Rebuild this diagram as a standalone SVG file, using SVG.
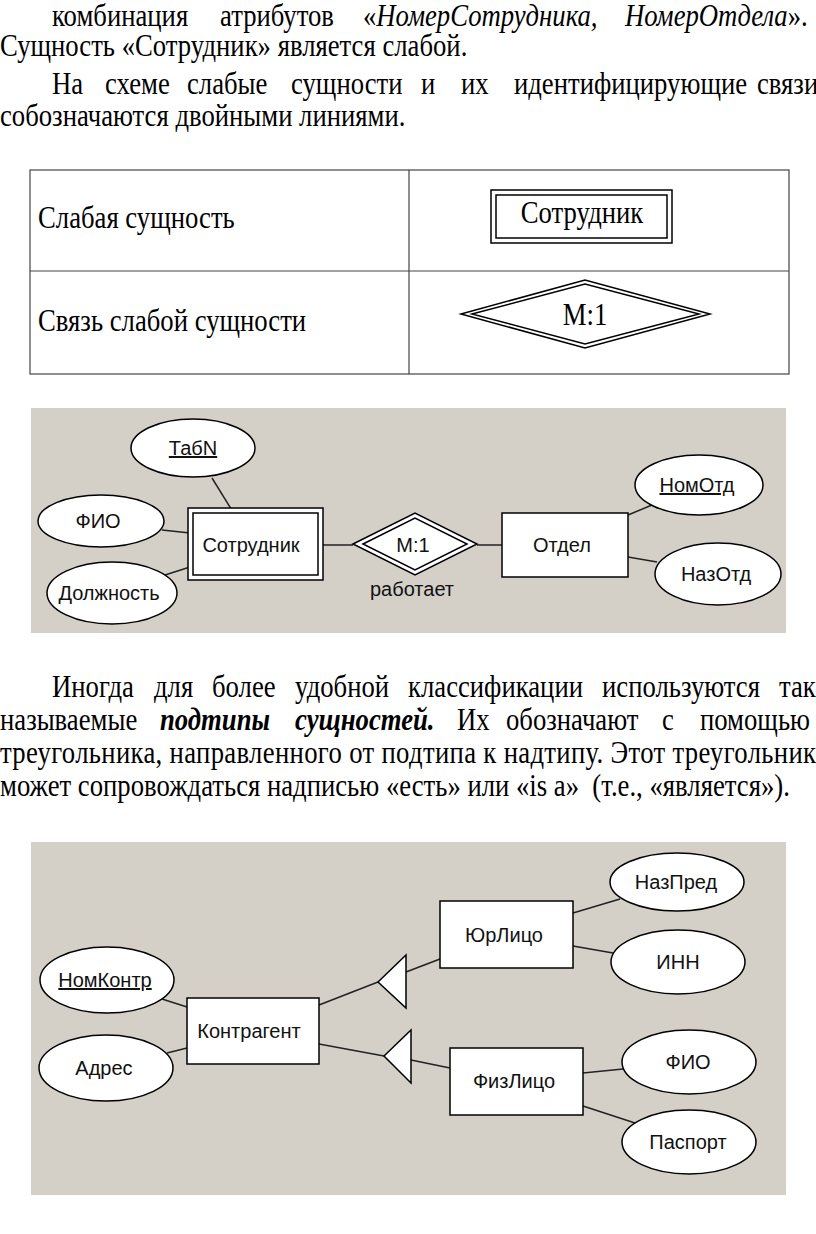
<svg xmlns="http://www.w3.org/2000/svg" width="816" height="1234" viewBox="0 0 816 1234">
<style>
.p{font-family:"Liberation Serif","Times New Roman",serif;font-size:26.7px;fill:#000}
.i{font-style:italic}
.bi{font-weight:bold;font-style:italic}
.d{font-family:"Liberation Sans",Arial,sans-serif;font-size:20px;fill:#111;text-anchor:middle}
.tc{text-anchor:middle}
.u{text-decoration:underline}
.sh{fill:#fff;stroke:#000;stroke-width:1.5}
.ln{stroke:#222;stroke-width:1.5;fill:none}
.tb{stroke:#444;stroke-width:1.2;fill:none}
.panel{fill:#d4d0c8}
</style>
<rect width="816" height="1234" fill="#fff"/>

<g id="para1">
<text class="p" transform="translate(0,26) scale(1,1.2)"><tspan x="52">комбинация</tspan><tspan x="220">атрибутов</tspan><tspan x="363">«</tspan><tspan class="i">НомерСотрудника,</tspan><tspan x="625" class="i">НомерОтдела</tspan><tspan>».</tspan></text>
<text class="p" transform="translate(0,56) scale(1,1.2)">Сущность «Сотрудник» является слабой.</text>
<text class="p" transform="translate(0,94) scale(1,1.2)"><tspan x="52">На</tspan><tspan x="105">схеме</tspan><tspan x="187">слабые</tspan><tspan x="291">сущности</tspan><tspan x="421">и</tspan><tspan x="461">их</tspan><tspan x="514">идентифицирующие</tspan><tspan x="757">связи</tspan></text>
<text class="p" transform="translate(0,126) scale(1,1.2)">собозначаются двойными линиями.</text>
</g>

<g id="table">
<rect class="tb" x="30" y="170" width="759" height="204"/>
<line class="tb" x1="30" y1="271" x2="789" y2="271"/>
<line class="tb" x1="409" y1="170" x2="409" y2="374"/>
<text class="p" transform="translate(38,228) scale(1,1.2)">Слабая сущность</text>
<text class="p" transform="translate(38,331) scale(1,1.2)">Связь слабой сущности</text>
</g>
<g id="legend-weak-entity">
<rect x="491" y="190" width="181" height="53" fill="#fff" stroke="#000" stroke-width="1.5"/>
<rect x="496" y="195" width="171" height="43" fill="none" stroke="#000" stroke-width="1.5"/>
<text class="p tc" transform="translate(582,223) scale(1,1.2)">Сотрудник</text>
</g>
<g id="legend-weak-rel">
<polygon points="461,314 585,280 710,314 585,348" fill="#fff" stroke="#000" stroke-width="1.5"/>
<polygon points="472,314 585,284 699,314 585,344" fill="none" stroke="#000" stroke-width="1.5"/>
<text class="p tc" transform="translate(585,325) scale(1,1.2)">M:1</text>
</g>

<rect class="panel" x="31" y="408" width="755" height="225"/>
<g id="connectors1">
<line class="ln" x1="212" y1="478" x2="233" y2="512"/>
<line class="ln" x1="162" y1="530" x2="190" y2="533"/>
<line class="ln" x1="165" y1="575" x2="190" y2="567"/>
<line class="ln" x1="323" y1="545" x2="353" y2="545"/>
<line class="ln" x1="477" y1="545" x2="502" y2="545"/>
<line class="ln" x1="628" y1="515" x2="652" y2="505"/>
<line class="ln" x1="628" y1="557" x2="657" y2="562"/>
</g>
<g id="tabn"><ellipse class="sh" cx="193" cy="448" rx="62" ry="29"/><text class="d u" x="193" y="455">ТабN</text></g>
<g id="fio1"><ellipse class="sh" cx="101" cy="521" rx="63" ry="26"/><text class="d" x="98" y="528">ФИО</text></g>
<g id="dolzh"><ellipse class="sh" cx="112" cy="593" rx="65" ry="31"/><text class="d" x="109" y="600">Должность</text></g>
<g id="sotr">
<rect x="188" y="508" width="135" height="72" fill="#fff" stroke="#000" stroke-width="1.5"/>
<rect x="193" y="513" width="125" height="62" fill="none" stroke="#000" stroke-width="1.5"/>
<text class="d" x="251" y="552">Сотрудник</text>
</g>
<g id="rabotaet">
<polygon points="353,544 415,513 477,544 415,575" fill="#fff" stroke="#000" stroke-width="1.5"/>
<polygon points="363,544 415,518 467,544 415,570" fill="none" stroke="#000" stroke-width="1.5"/>
<text class="d" x="413" y="552">M:1</text>
<text class="d" x="412" y="596">работает</text>
</g>
<g id="otdel"><rect class="sh" x="502" y="513" width="126" height="64"/><text class="d" x="562" y="552">Отдел</text></g>
<g id="nomotd"><ellipse class="sh" cx="699" cy="485" rx="64" ry="30"/><text class="d u" x="697" y="492">НомОтд</text></g>
<g id="nazotd"><ellipse class="sh" cx="718" cy="574" rx="63" ry="31"/><text class="d" x="716" y="581">НазОтд</text></g>

<g id="para2">
<text class="p" transform="translate(0,697) scale(1,1.2)"><tspan x="52">Иногда</tspan><tspan x="154">для</tspan><tspan x="212">более</tspan><tspan x="295">удобной</tspan><tspan x="408">классификации</tspan><tspan x="602">используются</tspan><tspan x="779">так</tspan></text>
<text class="p" transform="translate(0,730) scale(1,1.2)"><tspan x="0">называемые</tspan><tspan x="160" class="bi">подтипы</tspan><tspan x="295" class="bi">сущностей.</tspan><tspan x="457">Их</tspan><tspan x="506">обозначают</tspan><tspan x="662">с</tspan><tspan x="700">помощью</tspan></text>
<text class="p" transform="translate(0,763) scale(1,1.2)" textLength="816" lengthAdjust="spacing">треугольника, направленного от подтипа к надтипу. Этот треугольник</text>
<text class="p" transform="translate(0,796) scale(1,1.2)" xml:space="preserve" style="white-space:pre">может сопровождаться надписью «есть» или «is a»  (т.е., «является»).</text>
</g>

<rect class="panel" x="31" y="842" width="755" height="353"/>
<g id="connectors2">
<line class="ln" x1="162" y1="999" x2="187" y2="1007"/>
<line class="ln" x1="167" y1="1053" x2="187" y2="1048"/>
<line class="ln" x1="319" y1="1005" x2="378" y2="982"/>
<line class="ln" x1="319" y1="1044" x2="384" y2="1056"/>
<line class="ln" x1="406" y1="972" x2="440" y2="959"/>
<line class="ln" x1="411" y1="1060" x2="450" y2="1068"/>
<line class="ln" x1="573" y1="913" x2="620" y2="899"/>
<line class="ln" x1="573" y1="946" x2="613" y2="953"/>
<line class="ln" x1="583" y1="1073" x2="623" y2="1069"/>
<line class="ln" x1="583" y1="1106" x2="635" y2="1123"/>
</g>
<g id="isa1"><polygon class="sh" points="378,982 406,955 406,1008"/></g>
<g id="isa2"><polygon class="sh" points="384,1056 411,1030 411,1083"/></g>
<g id="nomkontr"><ellipse class="sh" cx="107" cy="980" rx="67" ry="33"/><text class="d u" x="105" y="987">НомКонтр</text></g>
<g id="adres"><ellipse class="sh" cx="106" cy="1068" rx="67" ry="33"/><text class="d" x="104" y="1075">Адрес</text></g>
<g id="kontragent"><rect class="sh" x="187" y="998" width="132" height="66"/><text class="d" x="249" y="1038">Контрагент</text></g>
<g id="yurlico"><rect class="sh" x="440" y="901" width="133" height="67"/><text class="d" x="504" y="942">ЮрЛицо</text></g>
<g id="fizlico"><rect class="sh" x="450" y="1048" width="133" height="67"/><text class="d" x="514" y="1088">ФизЛицо</text></g>
<g id="nazpred"><ellipse class="sh" cx="677" cy="882" rx="67" ry="29"/><text class="d" x="676" y="889">НазПред</text></g>
<g id="inn"><ellipse class="sh" cx="678" cy="962" rx="67" ry="32"/><text class="d" x="678" y="969">ИНН</text></g>
<g id="fio2"><ellipse class="sh" cx="689" cy="1062" rx="67" ry="32"/><text class="d" x="688" y="1069">ФИО</text></g>
<g id="pasport"><ellipse class="sh" cx="689" cy="1142" rx="67" ry="32"/><text class="d" x="688" y="1149">Паспорт</text></g>
</svg>
